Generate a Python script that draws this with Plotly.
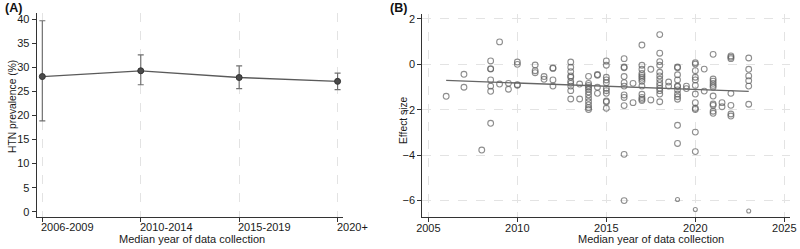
import plotly.graph_objects as go

# ---------------- Panel A data ----------------
periods = ["2006-2009", "2010-2014", "2015-2019", "2020+"]
prevalence = [28.1, 29.3, 27.9, 27.1]
ci_lower = [18.9, 26.4, 25.6, 25.4]
ci_upper = [39.7, 32.6, 30.3, 28.8]
a_yticks = [0, 5, 10, 15, 20, 25, 30, 35, 40]

# ---------------- Panel B data ----------------
b_year = (
    [2006.0]
    + [2007.0] * 2
    + [2008.0]
    + [2008.5] * 7
    + [2009.0] * 2
    + [2009.5] * 2
    + [2010.0] * 4
    + [2011.0] * 3
    + [2011.5] * 2
    + [2012.0] * 4
    + [2013.0] * 10
    + [2013.5] * 2
    + [2014.0] * 12
    + [2014.5] * 4
    + [2015.0] * 11
    + [2016.0] * 11
    + [2016.5] * 2
    + [2017.0] * 13
    + [2017.5] * 2
    + [2018.0] * 13
    + [2018.5] * 2
    + [2019.0] * 13
    + [2019.5] * 2
    + [2020.0] * 13
    + [2020.5] * 2
    + [2021.0] * 11
    + [2021.5] * 2
    + [2022.0] * 7
    + [2023.0] * 7
)
b_effect = (
    [-1.41]
    + [-0.44, -1.01]
    + [-3.78]
    + [0.15, -0.19, -0.21, -0.69, -0.96, -1.19, -2.60]
    + [0.99, -0.87]
    + [-0.84, -1.10]
    + [0.10, 0.00, -0.90, -0.92]
    + [-0.03, -0.28, -0.37]
    + [-0.54, -0.66]
    + [-0.16, -0.18, -0.69, -0.96]
    + [0.10, -0.13, -0.32, -0.51, -0.57, -0.75, -0.84, -0.96, -1.16, -1.53]
    + [-0.87, -1.53]
    + [-0.53, -0.84, -0.93, -1.01, -1.10, -1.22, -1.35, -1.50, -1.65, -1.79, -1.91, -1.99]
    + [-0.45, -0.48, -1.01, -1.28]
    + [0.15, -0.04, -0.57, -0.69, -0.81, -1.06, -1.16, -1.28, -1.62, -1.66, -1.94]
    + [0.25, -0.12, -0.15, -0.54, -0.81, -0.96, -1.35, -1.46, -1.82, -3.97, -6.01]
    + [-0.84, -1.69]
    + [0.85, -0.04, -0.22, -0.40, -0.49, -0.57, -0.66, -0.75, -0.96, -1.32, -1.46, -1.54, -1.60]
    + [-0.22, -1.57]
    + [1.31, 0.49, 0.12, -0.04, -0.35, -0.51, -0.66, -0.81, -0.93, -1.06, -1.16, -1.31, -1.65]
    + [-0.78, -0.96]
    + [-0.12, -0.15, -0.46, -0.69, -0.96, -0.98, -1.13, -1.31, -1.43, -1.54, -2.69, -3.49, -5.96]
    + [-0.96, -1.07]
    + [0.07, 0.01, -0.28, -0.57, -0.69, -0.93, -1.31, -1.69, -1.94, -1.99, -2.99, -3.85, -6.40]
    + [-0.21, -1.18]
    + [0.44, -0.65, -0.74, -0.84, -0.93, -1.01, -1.40, -1.75, -1.81, -2.07, -2.16]
    + [-1.69, -1.87]
    + [0.37, 0.31, 0.25, -1.28, -1.81, -2.19, -2.28]
    + [0.28, -0.22, -0.51, -0.72, -0.96, -1.76, -6.47]
)
small_points = [-5.96, -6.40, -6.47]
fit_year = [2006.0, 2023.0]
fit_effect = [-0.71, -1.19]
b_xticks = [2005, 2010, 2015, 2020, 2025]
b_yticks = [-6, -4, -2, 0, 2]

FONT = "Liberation Sans Narrow, Arial Narrow, Arial, sans-serif"
VFONT = "Liberation Sans, Arial, sans-serif"
TXT = "#1a1a1a"
TICKFONT = dict(family=FONT, size=11, color=TXT)
GRID = "#e3e3e3"

fig = go.Figure()

# Panel A
fig.add_trace(go.Scatter(
    x=periods, y=prevalence, mode="lines+markers",
    line=dict(color="#5a5a5a", width=1.3),
    marker=dict(symbol="circle", size=6, color="#4a4a4a", line=dict(color="#333", width=1)),
    error_y=dict(type="data", symmetric=False,
                 array=[u - p for u, p in zip(ci_upper, prevalence)],
                 arrayminus=[p - l for l, p in zip(ci_lower, prevalence)],
                 color="#707070", thickness=1.2, width=3),
    xaxis="x", yaxis="y", showlegend=False,
))

# Panel B
sizes = [4 if v in small_points else 5.8 for v in b_effect]
fig.add_trace(go.Scatter(
    x=b_year, y=b_effect, mode="markers",
    marker=dict(symbol="circle-open", size=sizes, color="#5e5e5e", line=dict(width=1.1)),
    xaxis="x2", yaxis="y2", showlegend=False,
))
fig.add_trace(go.Scatter(
    x=fit_year, y=fit_effect, mode="lines",
    line=dict(color="#666", width=1.3),
    xaxis="x2", yaxis="y2", showlegend=False,
))

axis_common = dict(showline=True, linecolor="#333", linewidth=1.2, ticks="outside",
                   ticklen=4, tickcolor="#333", tickfont=TICKFONT, zeroline=False,
                   mirror=False, automargin=False)

annotations = [
    dict(text="<b>(A)</b>", x=3 / 800, y=1 - 8 / 249, xref="paper", yref="paper",
         xanchor="left", yanchor="middle", showarrow=False,
         font=dict(family=FONT, size=12.5, color="#111")),
    dict(text="<b>(B)</b>", x=388 / 800, y=1 - 8 / 249, xref="paper", yref="paper",
         xanchor="left", yanchor="middle", showarrow=False,
         font=dict(family=FONT, size=12.5, color="#111")),
    dict(text="HTN prevalence (%)", x=12 / 800, y=1 - 107 / 249, xref="paper", yref="paper",
         xanchor="center", yanchor="middle", textangle=-90, showarrow=False,
         font=dict(family=VFONT, size=10.3, color=TXT)),
    dict(text="Effect size", x=403 / 800, y=1 - 120 / 249, xref="paper", yref="paper",
         xanchor="center", yanchor="middle", textangle=-90, showarrow=False,
         font=dict(family=VFONT, size=10.3, color=TXT)),
    dict(text="Median year of data collection", x=191.5 / 800, y=1 - 239 / 249,
         xref="paper", yref="paper", xanchor="center", yanchor="middle", showarrow=False,
         font=dict(family=FONT, size=11, color=TXT)),
    dict(text="Median year of data collection", x=650.5 / 800, y=1 - 239 / 249,
         xref="paper", yref="paper", xanchor="center", yanchor="middle", showarrow=False,
         font=dict(family=FONT, size=11, color=TXT)),
]
# Panel A category labels: left-aligned at each tick, as in the reference
for p in periods:
    annotations.append(dict(text=p, x=p, xref="x", y=1 - 227 / 249, yref="paper",
                            xanchor="left", yanchor="middle", xshift=-3, showarrow=False,
                            font=TICKFONT))

fig.update_layout(
    template="none",
    width=800, height=249,
    margin=dict(l=0, r=0, t=0, b=0, pad=0),
    paper_bgcolor="white", plot_bgcolor="white",
    xaxis=dict(domain=[0.0459, 0.429], type="category", range=[-0.057, 3.057],
               showgrid=True, gridcolor=GRID, griddash="dash", gridwidth=1,
               anchor="y", showticklabels=False, **axis_common),
    yaxis=dict(domain=[0.1297, 0.9466], range=[-1.04, 41.25], tickvals=a_yticks,
               showgrid=False, anchor="x", **axis_common),
    xaxis2=dict(domain=[0.5279, 0.9875], range=[2004.66, 2025.32], tickvals=b_xticks,
                showgrid=True, gridcolor=GRID, griddash="dash", gridwidth=1,
                anchor="y2", ticklabelstandoff=-3, **axis_common),
    yaxis2=dict(domain=[0.1297, 0.9438], range=[-6.72, 2.22], tickvals=b_yticks,
                showgrid=True, gridcolor=GRID, griddash="dash", gridwidth=1,
                anchor="x2", **axis_common),
    annotations=annotations,
)

fig.write_html("out.html")
